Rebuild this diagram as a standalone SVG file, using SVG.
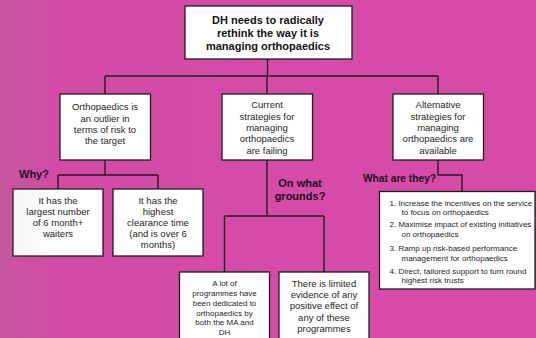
<svg xmlns="http://www.w3.org/2000/svg" width="536" height="338" viewBox="0 0 536 338">
  <defs>
    <linearGradient id="bg" x1="0" y1="0" x2="1" y2="0">
      <stop offset="0" stop-color="#c9529f"/>
      <stop offset="0.1" stop-color="#d34ba6"/>
      <stop offset="1" stop-color="#d74ba8"/>
    </linearGradient>
    <linearGradient id="shade" x1="0" y1="0" x2="1" y2="0">
      <stop offset="0" stop-color="#808080" stop-opacity="0.08"/>
      <stop offset="1" stop-color="#808080" stop-opacity="0"/>
    </linearGradient>
    <style>
      .box { fill: #ffffff; stroke: #1e1e1e; stroke-width: 1.3; }
      .conn { fill: none; stroke: #1e1e1e; stroke-width: 1.4; }
      .t { font-family: "Liberation Sans", Arial, sans-serif; fill: #262626; text-anchor: middle; }
      .n { font-size: 9.5px; }
      .s { font-size: 8px; }
      .title { font-family: "Liberation Sans", Arial, sans-serif; font-weight: bold; font-size: 11px; fill: #141414; text-anchor: middle; }
      .lbl { font-family: "Liberation Sans", Arial, sans-serif; font-weight: bold; font-size: 11px; fill: #1a1020; }
      .li { font-family: "Liberation Sans", Arial, sans-serif; font-size: 8px; fill: #262626; }
    </style>
  </defs>

  <rect x="0" y="0" width="536" height="338" fill="url(#bg)"/>

  <!-- connectors -->
  <g id="connectors" class="conn">
    <path d="M267.5 59 V76"/>
    <path d="M105 76 H438"/>
    <path d="M105 76 V94 M267 76 V94 M438 76 V94"/>
    <path d="M105 160 V175 M58 175 H158 M58 175 V189 M158 175 V189"/>
    <path d="M267 160 V216 M224.5 216 H324 M224.5 216 V272 M324 216 V272"/>
    <path d="M438 160 V175 H462 V191.5"/>
  </g>

  <g id="root">
    <rect class="box" x="185" y="6" width="167" height="53"/>
    <text class="title" x="268" y="23.5">DH needs to radically</text>
    <text class="title" x="268" y="36.5">rethink the way it is</text>
    <text class="title" x="268" y="49.5">managing orthopaedics</text>
  </g>

  <g id="outlier">
    <rect class="box" x="60" y="94" width="90.5" height="66"/>
    <text class="t n" x="105" y="110">Orthopaedics is</text>
    <text class="t n" x="105" y="121.5">an outlier in</text>
    <text class="t n" x="105" y="132.5">terms of risk to</text>
    <text class="t n" x="105" y="143.5">the target</text>
  </g>

  <g id="current">
    <rect class="box" x="222" y="94" width="90.5" height="66"/>
    <text class="t n" x="267" y="108">Current</text>
    <text class="t n" x="267" y="119.5">strategies for</text>
    <text class="t n" x="267" y="131">managing</text>
    <text class="t n" x="267" y="142.3">orthopaedics</text>
    <text class="t n" x="267" y="153.6">are failing</text>
  </g>

  <g id="alternative">
    <rect class="box" x="393" y="94" width="90.5" height="66"/>
    <text class="t n" x="438" y="108">Alternative</text>
    <text class="t n" x="438" y="119.5">strategies for</text>
    <text class="t n" x="438" y="131">managing</text>
    <text class="t n" x="438" y="142.3">orthopaedics are</text>
    <text class="t n" x="438" y="153.6">available</text>
  </g>

  <text class="lbl" x="19" y="178">Why?</text>
  <text class="lbl" x="300" y="187" text-anchor="middle">On what</text>
  <text class="lbl" x="300" y="199.5" text-anchor="middle">grounds?</text>
  <text class="lbl" x="363" y="182" style="font-size:10.2px">What are they?</text>

  <g id="waiters">
    <rect class="box" x="13" y="189" width="90" height="67"/>
    <text class="t n" x="58" y="204">It has the</text>
    <text class="t n" x="58" y="215">largest number</text>
    <text class="t n" x="58" y="226">of 6 month+</text>
    <text class="t n" x="58" y="237">waiters</text>
  </g>

  <g id="clearance">
    <rect class="box" x="113" y="189" width="90" height="67"/>
    <text class="t n" x="158" y="204">It has the</text>
    <text class="t n" x="158" y="215">highest</text>
    <text class="t n" x="158" y="226">clearance time</text>
    <text class="t n" x="158" y="237">(and is over 6</text>
    <text class="t n" x="158" y="248">months)</text>
  </g>

  <g id="programmes">
    <rect class="box" x="179.5" y="272" width="90" height="80"/>
    <text class="t s" x="224.5" y="286">A lot of</text>
    <text class="t s" x="224.5" y="296">programmes have</text>
    <text class="t s" x="224.5" y="305.5">been dedicated to</text>
    <text class="t s" x="224.5" y="315.5">orthopaedics by</text>
    <text class="t s" x="224.5" y="325">both the MA and</text>
    <text class="t s" x="224.5" y="334.5">DH</text>
  </g>

  <g id="evidence">
    <rect class="box" x="279" y="272" width="90" height="80"/>
    <text class="t n" x="324" y="287">There is limited</text>
    <text class="t n" x="324" y="298">evidence of any</text>
    <text class="t n" x="324" y="309">positive effect of</text>
    <text class="t n" x="324" y="320.5">any of these</text>
    <text class="t n" x="324" y="331.5">programmes</text>
  </g>

  <g id="options">
    <rect class="box" x="379.5" y="191.5" width="155.5" height="97.5"/>
    <text class="li" x="389.5" y="205.5">1. Increase the incentives on the service</text>
    <text class="li" x="401.5" y="214.5">to focus on orthopaedics</text>
    <text class="li" x="389.5" y="227">2. Maximise impact of existing initiatives</text>
    <text class="li" x="401.5" y="236.5">on orthopaedics</text>
    <text class="li" x="389.5" y="251">3. Ramp up risk-based performance</text>
    <text class="li" x="401.5" y="261">management for orthopaedics</text>
    <text class="li" x="389.5" y="273.5">4. Direct, tailored support to turn round</text>
    <text class="li" x="401.5" y="283">highest risk trusts</text>
  </g>

  <!-- soft darkening along the left edge -->
  <rect x="0" y="0" width="60" height="338" fill="url(#shade)"/>
</svg>
